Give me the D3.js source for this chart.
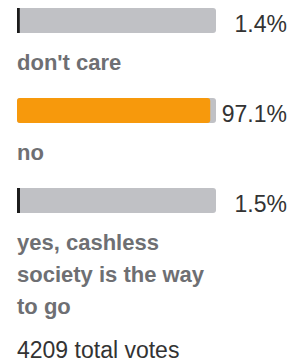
<!DOCTYPE html>
<html lang="en">
	<head>
		<meta charset="utf-8">
		<title>Poll results</title>
		<script src="https://d3js.org/d3.v7.min.js" charset="utf-8"></script>
		<style type="text/css">
			body {
				margin: 0;
				background: #ffffff;
			}
			svg {
				display: block;
				font-family: "Liberation Sans", Arial, sans-serif;
			}
		</style>
	</head>
	<body>
		<div id="main"></div>

		<script type="text/javascript">

			// poll answers, in the order they appear
			var answers = ["don't care", "no", "yes, cashless society is the way to go"];
			var percents = [1.4, 97.1, 1.5];
			var percentLabels = ["1.4%", "97.1%", "1.5%"];
			var totalVotes = 4209;

			var w = 296;
			var h = 363;

			var barLeft = 17;
			var barWidth = 199;
			var barHeight = 25;
			var lineHeight = 32;

			var svg = d3.select("#main")
						.append("svg")
						.attr("width", w)
						.attr("height", h);

			var x = d3.scaleLinear()
				.domain([0, 100])
				.range([0, barWidth]);

			var maxPct = d3.max(percents);

			var rows = answers.map(function(a, i) {
				return { label: a, pct: percents[i], text: percentLabels[i] };
			});

			var y = 8;
			rows.forEach(function(d) {
				var g = svg.append("g").attr("transform", "translate(" + barLeft + "," + y + ")");

				// background track
				g.append("rect")
					.attr("width", x(100))
					.attr("height", barHeight)
					.attr("rx", 3)
					.attr("fill", "#c0c1c5");

				// filled part
				g.append("rect")
					.attr("width", Math.max(x(d.pct), 2))
					.attr("height", barHeight)
					.attr("rx", d.pct === maxPct ? 3 : 0)
					.attr("fill", d.pct === maxPct ? "#f7990c" : "#1c1c1c");

				g.append("text")
					.attr("x", w - 9 - barLeft)
					.attr("y", barHeight - 1)
					.attr("text-anchor", "end")
					.attr("font-size", 23)
					.attr("fill", "#333333")
					.text(d.text);

				// label, wrapped to the bar width
				var label = g.append("text")
					.attr("y", 62)
					.attr("font-size", 22)
					.attr("font-weight", "bold")
					.attr("fill", "#6e6f73");

				var words = d.label.split(" ");
				var line = [];
				var lineNo = 0;
				var tspan = label.append("tspan").attr("x", 0).attr("dy", 0);
				words.forEach(function(word) {
					line.push(word);
					tspan.text(line.join(" "));
					if (tspan.node().getComputedTextLength() > barWidth && line.length > 1) {
						line.pop();
						tspan.text(line.join(" "));
						line = [word];
						lineNo++;
						tspan = label.append("tspan").attr("x", 0).attr("dy", lineHeight).text(word);
					}
				});

				y += 62 + lineNo * lineHeight + 28;
			});

			// total sits a bit above the bottom edge
			svg.append("text")
				.attr("x", barLeft)
				.attr("y", y - 28 + 44)
				.attr("font-size", 23)
				.attr("fill", "#333333")
				.text(totalVotes + " total votes");

		</script>
	</body>
</html>
